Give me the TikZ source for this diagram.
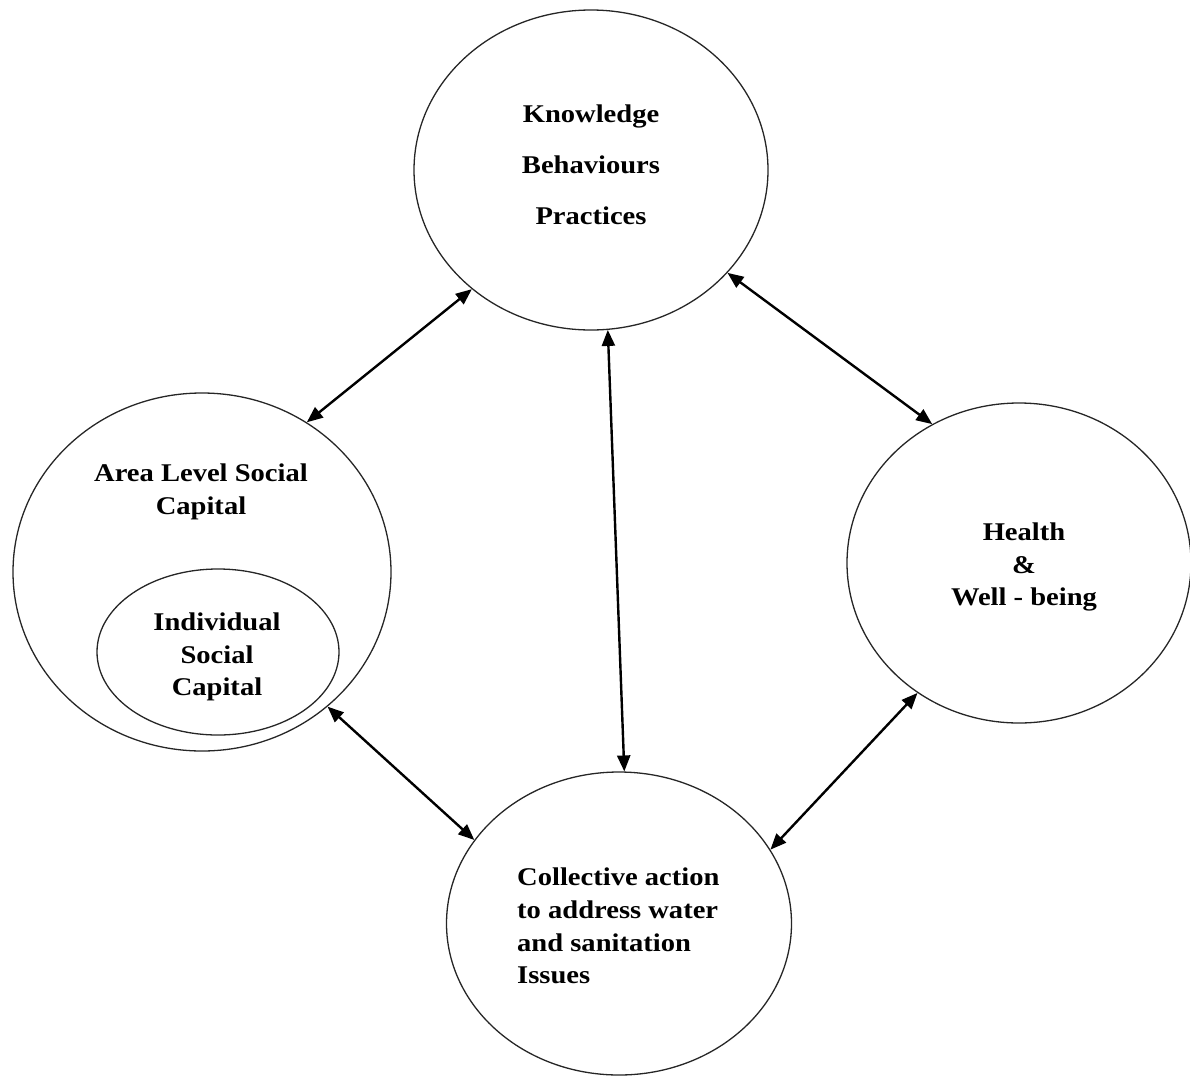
\documentclass[tikz,border=0pt]{standalone}
\usepackage{fontspec}
\setmainfont{Liberation Serif}[FakeStretch=1.12]
\usetikzlibrary{shapes.geometric,arrows.meta}
\begin{document}
\begin{tikzpicture}[x=1pt,y=-1pt,
  blob/.style={draw=black!85, line width=1.3pt, ellipse, inner sep=0pt},
  lbl/.style={font=\bfseries\fontsize{25.5}{32.8}\selectfont, align=center, inner sep=0pt},
  lbltop/.style={font=\bfseries\fontsize{25.5}{51}\selectfont, align=center, inner sep=0pt},
  link/.style={line width=2.4pt, {Triangle[length=16pt,width=13pt]}-{Triangle[length=16pt,width=13pt]}}]
\useasboundingbox (0,0) rectangle (1190,1076);

% circles
\node[blob, minimum width=354pt, minimum height=320pt] (top) at (591,170) {};
\node[blob, minimum width=378pt, minimum height=358pt] (left) at (202,572) {};
\node[blob, minimum width=242pt, minimum height=166pt] (inner) at (218,652) {};
\node[blob, minimum width=344pt, minimum height=320pt] (right) at (1019,563) {};
\node[blob, minimum width=345pt, minimum height=303pt] (bottom) at (619,923.5) {};

% labels
\node[lbltop] (ttop) at (591,165) {Knowledge\\Behaviours\\Practices};
\node[lbl] (tleft) at (201,492) {Area Level Social\\Capital};
\node[lbl] (tinner) at (217,657) {Individual\\Social\\Capital};
\node[lbl] (tright) at (1024,567) {Health\\\&\\Well - being};
\node[lbl, align=left, anchor=west] (tbottom) at (517,926) {Collective action\\to address water\\and sanitation\\Issues};

% connectors
\draw[link] (top.225.2) -- (left.55.1);
\draw[link] (top.323.9) -- (right.122.6);
\draw[link] (top.276.9) -- (bottom.88.9);
\draw[link] (left.313.9) -- (bottom.150.3);
\draw[link] (right.232.6) -- (bottom.26.0);
\end{tikzpicture}
\end{document}
